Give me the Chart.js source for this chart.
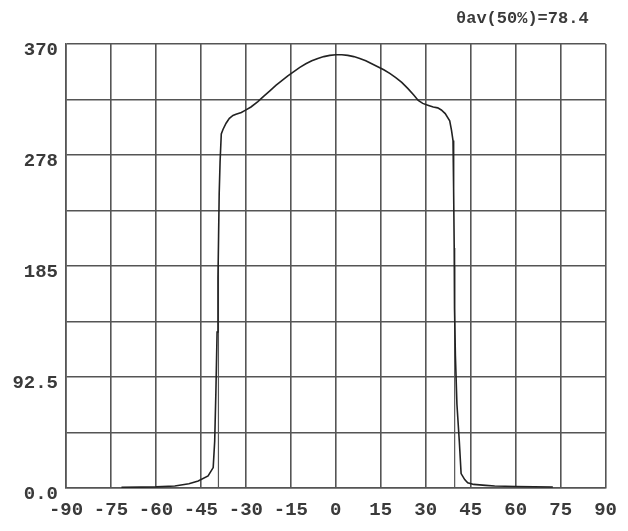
<!DOCTYPE html>
<html>
<head>
<meta charset="utf-8">
<script src="https://cdn.jsdelivr.net/npm/chart.js@4.4.0/dist/chart.umd.min.js"></script>
<style>
  html, body { margin: 0; padding: 0; background: #ffffff; }
  canvas { display: block; }
</style>
</head>
<body>
<canvas id="c" width="628" height="531"></canvas>
<script>
// ---- data ----
const angles = [
  -71.5, -65, -60, -53.7, -49, -45.9, -42.6, -40.9, -40.4, -40.0, -39.6, -39.3, -39.1, -38.9, -38.6, -38.2,
  -37.6, -36.6, -35.5, -34.3, -33.3, -31.5, -30.4, -28.3, -26, -24, -22, -20, -18, -16, -14,
  -12, -10, -8, -6, -4, -2, 0, 2, 4, 6, 8, 10, 12, 14, 16, 18, 20, 22, 24, 26, 27.5, 29, 30.7, 32.5, 34,
  35.2, 36.5, 38.0, 38.6, 39.1, 39.3, 39.5, 39.6, 39.9, 40.4, 41.2, 41.8, 43, 44, 46, 50, 53, 60, 72.4
];
const intensity = [
  0.6, 0.7, 0.9, 1.7, 3.5, 5.8, 10, 17, 39, 80, 130, 175, 210, 245, 272, 295,
  299, 304, 308, 310.5, 311.5, 313, 314.5, 317.5, 322, 326.5, 331, 335.5, 339.5, 343.5, 347,
  350.5, 353.5, 356, 358, 359.5, 360.5, 361, 361, 360.5, 359.5, 358, 356, 353.5, 351, 348.5, 345.5, 342, 338, 333, 327.5, 323, 320.5, 319, 317.5, 316.8,
  315, 312, 306, 298, 289.5, 250, 200, 150, 110, 70, 39, 12, 7, 4.4, 3, 2.2, 1.7, 1.2, 0.8
];
const markerAngles = [-39.15, 39.65];
const markerTop = 185;
const xTickLabels = ['-90','-75','-60','-45','-30','-15','0','15','30','45','60','75','90'];
const yTickLabels = ['0.0','92.5','185','278','370'];
const titleText = 'θav(50%)=78.4';

// ---- build ----
const curve = angles.map((a, i) => ({ x: a, y: intensity[i] }));
const markers = [];
markerAngles.forEach((a, i) => {
  if (i > 0) markers.push({ x: a, y: null });
  markers.push({ x: a, y: 0 });
  markers.push({ x: a, y: markerTop });
});

const FONT = { family: '"Liberation Mono", "DejaVu Sans Mono", monospace', size: 19, weight: 'bold' };
const TXT = '#3a3a3a';
const GRID = '#555555';

const titlePlugin = {
  id: 'cornerTitle',
  afterDraw(chart) {
    const { ctx, chartArea } = chart;
    ctx.save();
    ctx.font = `bold 17px ${FONT.family}`;
    ctx.fillStyle = TXT;
    ctx.textAlign = 'right';
    ctx.textBaseline = 'middle';
    ctx.fillText(titleText, chartArea.right - 17, 19);
    ctx.restore();
  }
};

new Chart(document.getElementById('c'), {
  type: 'line',
  data: {
    datasets: [
      { data: curve, borderColor: '#222222', borderWidth: 1.6, pointRadius: 0, tension: 0, fill: false },
      { data: markers, borderColor: '#555555', borderWidth: 1.2, pointRadius: 0, tension: 0, fill: false, spanGaps: false }
    ]
  },
  options: {
    responsive: false,
    animation: false,
    devicePixelRatio: 1,
    layout: { padding: { top: 44, right: 19, left: 0, bottom: 0 } },
    plugins: { legend: { display: false }, tooltip: { enabled: false }, title: { display: false } },
    scales: {
      x: {
        type: 'linear', min: -90, max: 90,
        afterFit(s) { s.height = 43; },
        grid: { color: GRID, lineWidth: 1.6, drawTicks: false },
        border: { color: GRID, width: 1.6 },
        ticks: {
          stepSize: 15, padding: 11, color: TXT, font: FONT, maxRotation: 0, autoSkip: false,
          callback: (v, i) => xTickLabels[i]
        }
      },
      y: {
        type: 'linear', min: 0, max: 370,
        afterFit(s) { s.width = 66; },
        grid: { color: GRID, lineWidth: 1.6, drawTicks: false },
        border: { color: GRID, width: 1.6 },
        ticks: {
          stepSize: 46.25, padding: 8, color: TXT, font: FONT, labelOffset: 6, autoSkip: false,
          callback: (v, i) => (i % 2 === 0 ? yTickLabels[i / 2] : '')
        }
      }
    }
  },
  plugins: [titlePlugin]
});
</script>
</body>
</html>
